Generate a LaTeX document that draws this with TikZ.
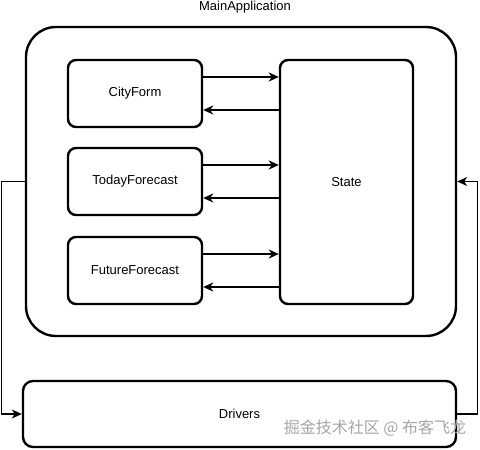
\documentclass[tikz,border=0pt]{standalone}
\usepackage{fontspec}
\setmainfont{Liberation Sans}
\newfontfamily\cjkfont{Noto Sans CJK SC}
\usetikzlibrary{arrows.meta,positioning}

\begin{document}
\begin{tikzpicture}[x=1pt,y=-1pt,
 comp/.style={draw,line width=2.4pt,rounded corners=8pt,minimum width=134pt,
 minimum height=67pt,align=center,font=\fontsize{13}{15}\selectfont},
 arr/.style={-{Stealth[length=10pt,width=9pt,inset=3pt]},line width=1.6pt},
 link/.style={-{Stealth[length=10pt,width=9pt,inset=3pt]},line width=1.3pt}]
\useasboundingbox (0,0) rectangle (480,450);
\node[font=\fontsize{13}{15}\selectfont] (title) at (245,7) {MainApplication};
\node[draw,line width=2.4pt,rounded corners=30pt,minimum width=430pt,minimum height=309pt] (app) at (241,181.5) {};
\node[comp] (city) at (135,93.5) {CityForm};
\node[comp] (today) at (135,181.5) {TodayForecast};
\node[comp] (future) at (135,270.5) {FutureForecast};
\node[comp,minimum width=133pt,minimum height=244pt] (state) at (346.5,182) {State};
\node[comp,minimum width=433pt,minimum height=66pt,rounded corners=10pt] (drivers) at (239.5,414) {Drivers};
\draw[arr] ([yshift=16.5pt]city.east) -- ([yshift=16.5pt]city.east -| state.west);
\draw[arr] ([yshift=-16.5pt]city.east -| state.west) -- ([yshift=-16.5pt]city.east);
\draw[arr] ([yshift=16.5pt]today.east) -- ([yshift=16.5pt]today.east -| state.west);
\draw[arr] ([yshift=-16.5pt]today.east -| state.west) -- ([yshift=-16.5pt]today.east);
\draw[arr] ([yshift=16.5pt]future.east) -- ([yshift=16.5pt]future.east -| state.west);
\draw[arr] ([yshift=-16.5pt]future.east -| state.west) -- ([yshift=-16.5pt]future.east);
\draw[link] (app.west) -- ++(-23,0) |- (drivers.west);
\draw[link] (drivers.east) -- ++(20,0) |- (app.east);
\node[text=gray!70,font=\cjkfont\fontsize{16}{18}\selectfont] (mark) at (375,428) {掘金技术社区 @ 布客飞龙};
\end{tikzpicture}
\end{document}
